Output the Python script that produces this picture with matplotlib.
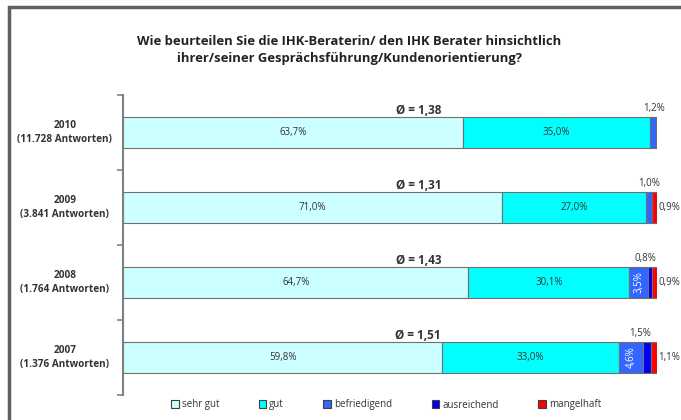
import numpy as np
import matplotlib
matplotlib.use('Agg')
import matplotlib.pyplot as plt
from matplotlib.patches import Patch, Rectangle

years = ['2010\n(11.728 Antworten)', '2009\n(3.841 Antworten)',
         '2008\n(1.764 Antworten)', '2007\n(1.376 Antworten)']
categories = ['sehr gut', 'gut', 'befriedigend', 'ausreichend', 'mangelhaft']
sehr_gut = [63.7, 71.0, 64.7, 59.8]
gut = [35.0, 27.0, 30.1, 33.0]
befriedigend = [1.2, 1.0, 3.5, 4.6]
ausreichend = [0.1, 0.1, 0.8, 1.5]
mangelhaft = [0.0, 0.9, 0.9, 1.1]
means = ['1,38', '1,31', '1,43', '1,51']
# small labels: above bar end, right of bar end
top_labels = ['1,2%', '1,0%', '0,8%', '1,5%']
right_labels = ['', '0,9%', '0,9%', '1,1%']

colours = ['#ccffff', '#00ffff', '#3366ff', '#0000ee', '#ff0000']
txt = '#333333'
plt.rcParams['font.family'] = ['Open Sans', 'DejaVu Sans']


def pct(v):
    return ('%.1f%%' % v).replace('.', ',')


W, H = 681, 420
fig = plt.figure(figsize=(W/100, H/100), dpi=100)
ax = fig.add_axes([123/W, 1-395/H, (657-123)/W, 300/H])

series = [sehr_gut, gut, befriedigend, ausreichend, mangelhaft]
ypos = np.arange(len(years))[::-1] + 0.5
left = np.zeros(len(years))
for vals, col in zip(series, colours):
    vals = np.array(vals)
    ax.barh(ypos, vals, left=left, height=0.41, color=col,
            edgecolor='#707070', linewidth=0.8)
    left += vals

for i, y in enumerate(ypos):
    # year labels left of the axis
    ax.text(-10.9, y, years[i], ha='center', va='center', fontsize=7.2,
            fontweight='bold', color=txt, linespacing=1.4, clip_on=False)
    # big segment labels
    ax.text(sehr_gut[i]/2, y, pct(sehr_gut[i]), ha='center', va='center', fontsize=7, color=txt)
    ax.text(sehr_gut[i] + gut[i]/2, y, pct(gut[i]), ha='center', va='center', fontsize=7, color=txt)
    if befriedigend[i] > 2:
        ax.text(sehr_gut[i] + gut[i] + befriedigend[i]/2, y, pct(befriedigend[i]),
                ha='center', va='center', fontsize=7, color='white', rotation=90)
    ax.text(55.3, y + 0.21, 'Ø = ' + means[i], ha='center', va='bottom',
            fontsize=8.5, fontweight='bold', color=txt)
    end = sehr_gut[i] + gut[i] + befriedigend[i]
    ax.text(end - 0.5, y + 0.25, top_labels[i], ha='center', va='bottom',
            fontsize=7, color=txt)
    ax.text(100.3, y, right_labels[i], ha='left', va='center', fontsize=7,
            color=txt, clip_on=False)

ax.set_xlim(0, 100)
ax.set_ylim(0, 4)
ax.set_yticks([0, 1, 2, 3, 4])
ax.set_yticklabels([])
ax.tick_params(axis='y', which='major', length=4, color='#808080', width=1.2)
ax.set_xticks([])
for s in ['top', 'right', 'bottom']:
    ax.spines[s].set_visible(False)
ax.spines['left'].set_color('#808080')
ax.spines['left'].set_linewidth(1.5)

fig.text(349/W, 1-50/H, 'Wie beurteilen Sie die IHK-Beraterin/ den IHK Berater hinsichtlich\n'
         'ihrer/seiner Gesprächsführung/Kundenorientierung?',
         ha='center', va='center', fontsize=9.4, fontweight='bold', color='#222222',
         linespacing=1.45)

handles = [Patch(facecolor=c, edgecolor='#404040', linewidth=0.8) for c in colours]
fig.legend(handles, categories, loc='center', bbox_to_anchor=(386/W, 1-405/H), ncol=5,
           frameon=False, fontsize=7, handlelength=0.8, handleheight=0.8,
           handletextpad=0.3, columnspacing=4.05, labelcolor=txt)

fig.patches.append(Rectangle((9/W, -0.1), 1.2, 1.1 - 7/H, transform=fig.transFigure,
                             fill=False, edgecolor='#606060', linewidth=2.5))

fig.savefig('out.png', dpi=100)
